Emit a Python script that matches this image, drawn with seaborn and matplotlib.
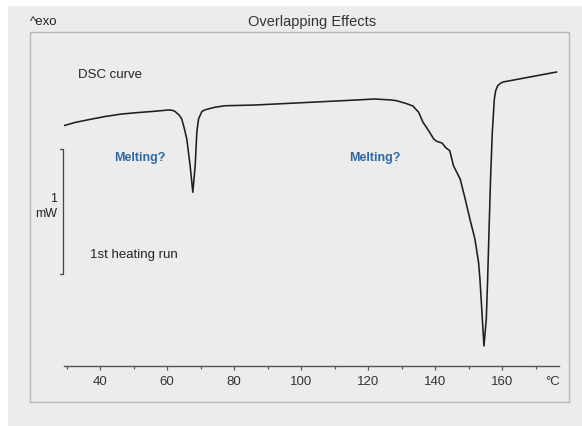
import matplotlib
matplotlib.use("Agg")
import matplotlib.pyplot as plt
import matplotlib.patches as mpatches
import seaborn as sns
import pandas as pd

# DSC curve, 1st heating run
temperature = [29.1, 32.5, 36.5, 41.5, 46.5, 51.5, 56.4, 60.4, 61.4, 62.2,
               63.6, 64.4, 65.2, 65.9, 66.9, 67.7, 68.4, 68.9, 69.4, 70.4,
               71.4, 74.3, 77.3, 86.3, 97.0, 112.0, 122.0, 127.0, 128.6, 131.6,
               133.4, 135.1, 136.4, 138.1, 139.6, 140.6, 142.1, 143.1, 144.4, 145.5,
               147.5, 149.0, 150.4, 151.9, 153.0, 153.4, 154.0, 154.6, 155.3, 155.7,
               156.1, 156.6, 157.1, 157.7, 158.1, 158.7, 159.5, 160.3, 176.3]
heat_flow = [1.386, 1.412, 1.434, 1.460, 1.480, 1.492, 1.502, 1.512, 1.510, 1.504,
             1.472, 1.440, 1.360, 1.280, 1.066, 0.854, 1.066, 1.336, 1.440, 1.500,
             1.514, 1.534, 1.546, 1.552, 1.566, 1.586, 1.600, 1.592, 1.586, 1.562,
             1.544, 1.494, 1.414, 1.346, 1.280, 1.260, 1.248, 1.213, 1.186, 1.066,
             0.960, 0.800, 0.640, 0.480, 0.290, 0.160, -0.106, -0.376, -0.160, 0.160,
             0.536, 0.986, 1.336, 1.600, 1.666, 1.706, 1.725, 1.736, 1.816]

major_ticks = [40, 60, 80, 100, 120, 140, 160]
minor_ticks = [30, 50, 70, 90, 110, 130, 150, 170]
melting_labels = [(44.2, "Melting?"), (114.3, "Melting?")]
scale_bar_mw = 1.0

df = pd.DataFrame({"T": temperature, "HF": heat_flow})

sns.set_theme(style="white")
plt.rcParams["font.family"] = ["Liberation Sans", "DejaVu Sans"]

W, H = 582, 427
fig = plt.figure(figsize=(W / 100, H / 100), dpi=100, facecolor="#ececec")

# white strips at top and left edge
fig.patches.append(mpatches.Rectangle((0, 1 - 7 / H), 1, 7 / H, transform=fig.transFigure,
                                      facecolor="white", edgecolor="none", zorder=0))
fig.patches.append(mpatches.Rectangle((0, 0), 7.5 / W, 1, transform=fig.transFigure,
                                      facecolor="white", edgecolor="none", zorder=0))
# panel frame
fig.patches.append(mpatches.Rectangle((30 / W, (H - 403) / H), (569 - 30) / W, (403 - 33) / H,
                                      transform=fig.transFigure, facecolor="none",
                                      edgecolor="#b8b8b8", lw=1.0, zorder=1))

ax = fig.add_axes([64 / W, (H - 367) / H, (559 - 64) / W, (367 - 33) / H])
ax.set_facecolor("none")

sns.lineplot(data=df, x="T", y="HF", ax=ax, color="#1e1e1e", lw=1.15,
             estimator=None, sort=False, solid_joinstyle="round")

ax.set_xlim(29.25, 177.0)
ax.set_ylim(-0.536, 2.136)
ax.set_xlabel("")
ax.set_ylabel("")
for s in ["left", "right", "top"]:
    ax.spines[s].set_visible(False)
ax.spines["bottom"].set_color("#555555")
ax.spines["bottom"].set_linewidth(1.0)
ax.set_yticks([])
ax.set_xticks(major_ticks)
ax.set_xticks(minor_ticks, minor=True)
ax.tick_params(axis="x", which="major", direction="out", length=2.7, width=0.9,
               color="#555555", labelsize=9.5, labelcolor="#333333", pad=4.0, bottom=True)
ax.tick_params(axis="x", which="minor", direction="out", length=2.2, width=0.9,
               color="#555555", bottom=True)

# unit label at the end of the axis
ax.text(175.2, -0.044, "°C", transform=ax.get_xaxis_transform(), ha="center", va="center",
        fontsize=9.5, color="#333333")

# 1 mW scale bar
bar_x, tick_x, bar_lo = 29.04, 28.2, 0.2
ax.plot([tick_x, bar_x, bar_x, tick_x], [bar_lo + scale_bar_mw, bar_lo + scale_bar_mw, bar_lo, bar_lo],
        color="#444444", lw=0.9, clip_on=False)
ax.text(27.2, bar_lo + scale_bar_mw / 2 + 0.05, "1\nmW", ha="right", va="center",
        multialignment="right", fontsize=9, color="#222222", linespacing=1.3)

# annotations
ax.text(33.4, 1.80, "DSC curve", ha="left", va="center", fontsize=9.5, color="#222222")
ax.text(37.0, 0.36, "1st heating run", ha="left", va="center", fontsize=9.5, color="#222222")
for x, lab in melting_labels:
    ax.text(x, 1.136, lab, ha="left", va="center", fontsize=9, fontweight="bold",
            color="#2e68a6")

fig.text(30 / W, 1 - 22 / H, "^exo", ha="left", va="center", fontsize=9.5, color="#222222")
fig.text(312 / W, 1 - 22 / H, "Overlapping Effects", ha="center", va="center",
         fontsize=10.5, color="#333333")

fig.savefig("out.png", dpi=100, facecolor=fig.get_facecolor())
